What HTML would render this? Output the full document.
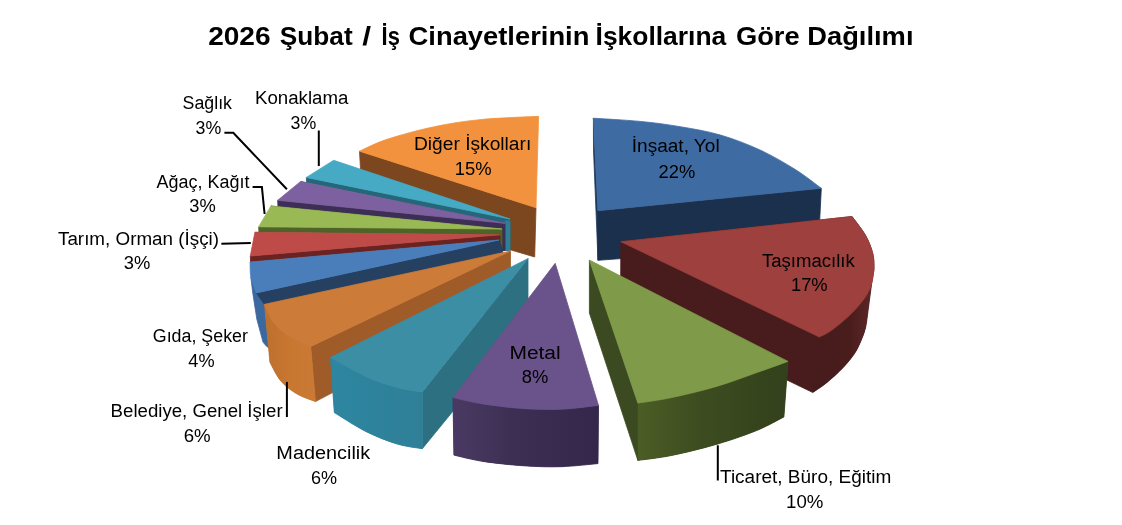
<!DOCTYPE html>
<html lang="tr"><head><meta charset="utf-8"><title>2026 Şubat / İş Cinayetlerinin İşkollarına Göre Dağılımı</title>
<style>html,body{margin:0;padding:0;background:#fff}svg{display:block}text{font-family:"Liberation Sans",Arial,sans-serif;fill:#000}</style></head><body>
<svg width="1122" height="525" viewBox="0 0 1122 525">
<rect width="1122" height="525" fill="#fff"/>
<defs>
<linearGradient id="gp" gradientUnits="userSpaceOnUse" x1="453" y1="0" x2="598" y2="0"><stop offset="0" stop-color="#4A3A63"/><stop offset="0.4" stop-color="#3D2F54"/><stop offset="1" stop-color="#34274A"/></linearGradient>
<linearGradient id="gg" gradientUnits="userSpaceOnUse" x1="638" y1="0" x2="788" y2="0"><stop offset="0" stop-color="#4B5D25"/><stop offset="0.4" stop-color="#3D4D20"/><stop offset="1" stop-color="#33401C"/></linearGradient>
<linearGradient id="gr" gradientUnits="userSpaceOnUse" x1="813" y1="0" x2="875" y2="0"><stop offset="0" stop-color="#461B1B"/><stop offset="0.6" stop-color="#4A1D1D"/><stop offset="1" stop-color="#602827"/></linearGradient>
<linearGradient id="gt" gradientUnits="userSpaceOnUse" x1="330" y1="0" x2="423" y2="0"><stop offset="0" stop-color="#2D86A0"/><stop offset="1" stop-color="#2F7F97"/></linearGradient>
<linearGradient id="go" gradientUnits="userSpaceOnUse" x1="264" y1="0" x2="316" y2="0"><stop offset="0" stop-color="#BC6F2D"/><stop offset="0.5" stop-color="#C87731"/><stop offset="1" stop-color="#CB7A35"/></linearGradient>
</defs>
<g shape-rendering="geometricPrecision">
<path d="M359.5 151.2L536.0 207.7 L534.7 257.0 L510.0 249.7 L361.4 185.0Z" fill="#7C461E" stroke="#7C461E" stroke-width="0.8" stroke-linejoin="round"/>
<path d="M536.0 207.7L359.5 151.2C364.1 149.2 374.6 143.4 387.1 139.3 C399.6 135.2 418.6 130.0 434.3 126.7 C450.0 123.4 464.0 121.2 481.4 119.5 C498.8 117.8 529.1 116.8 538.6 116.3Z" fill="#F3923E" stroke="#F3923E" stroke-width="0.8" stroke-linejoin="round"/>
<path d="M593.4 118.2L593.5 150.0 L598.0 260.3 L598.0 210.7Z" fill="#1F3A5C" stroke="#1F3A5C" stroke-width="0.8" stroke-linejoin="round"/>
<path d="M598.0 210.7L821.3 188.3 L818.5 244.0 L598.0 260.3Z" fill="#1B304C" stroke="#1B304C" stroke-width="0.8" stroke-linejoin="round"/>
<path d="M598.0 210.7L593.4 118.2C601.2 118.7 625.7 120.0 640.2 121.4 C654.7 122.8 666.9 124.4 680.3 126.7 C693.7 129.0 707.0 131.1 720.4 135.0 C733.8 138.9 748.0 144.4 760.5 150.2 C773.0 155.9 785.2 163.2 795.3 169.5 C805.4 175.8 817.0 185.2 821.3 188.3Z" fill="#3F6BA3" stroke="#3F6BA3" stroke-width="0.8" stroke-linejoin="round"/>
<path d="M306.3 177.4L510.0 219.0 L510.0 250.5 L502.0 250.5 L505.0 223.3 L300.6 181.5 L306.6 185.4Z" fill="#256679" stroke="#256679" stroke-width="0.8" stroke-linejoin="round"/>
<path d="M505.2 221.0L510.0 221.0 L510.0 250.5 L505.2 250.5Z" fill="#2E7E95" stroke="#2E7E95" stroke-width="0.8" stroke-linejoin="round"/>
<path d="M510.0 219.0L333.7 160.3 L306.3 177.4Z" fill="#46AAC5" stroke="#46AAC5" stroke-width="0.8" stroke-linejoin="round"/>
<path d="M277.7 200.3L505.0 223.3 L505.0 250.5 L499.0 250.5 L502.0 229.0 L270.9 206.0 L278.0 208.3Z" fill="#3D2E55" stroke="#3D2E55" stroke-width="0.8" stroke-linejoin="round"/>
<path d="M505.0 223.3L300.6 181.5 L277.7 200.3Z" fill="#7D60A0" stroke="#7D60A0" stroke-width="0.8" stroke-linejoin="round"/>
<path d="M258.7 226.8L502.0 229.0 L502.0 250.5 L497.0 250.5 L500.0 234.8 L254.9 232.3 L259.0 234.8Z" fill="#4F6328" stroke="#4F6328" stroke-width="0.8" stroke-linejoin="round"/>
<path d="M502.0 229.0L270.9 206.0 L258.7 226.8Z" fill="#98B954" stroke="#98B954" stroke-width="0.8" stroke-linejoin="round"/>
<path d="M250.3 256.0L500.0 234.8 L500.0 250.5 L496.0 250.5 L499.0 240.0 L250.1 262.1 L250.6 263.0Z" fill="#6B2322" stroke="#6B2322" stroke-width="0.8" stroke-linejoin="round"/>
<path d="M500.0 234.8L254.9 232.3 L250.3 256.0Z" fill="#BE4B48" stroke="#BE4B48" stroke-width="0.8" stroke-linejoin="round"/>
<path d="M250.9 277.2L256.3 292.9 L270.0 303.0 L270.0 349.0 L266.2 345.9 L263.0 342.1 L256.8 319.1 L252.6 291.9Z" fill="#3B689E" stroke="#3B689E" stroke-width="0.8" stroke-linejoin="round"/>
<path d="M256.3 292.9L499.0 240.0 L503.0 250.5 L500.0 262.0 L264.6 304.6Z" fill="#254061" stroke="#254061" stroke-width="0.8" stroke-linejoin="round"/>
<path d="M499.0 240.0L250.1 262.1C250.2 264.6 249.9 272.1 250.9 277.2 C251.9 282.3 255.4 290.3 256.3 292.9Z" fill="#4A7EBB" stroke="#4A7EBB" stroke-width="0.8" stroke-linejoin="round"/>
<path d="M510.5 251.0L310.7 346.6 L315.4 401.6 L510.5 300.0Z" fill="#A05C28" stroke="#A05C28" stroke-width="0.8" stroke-linejoin="round"/>
<path d="M264.6 304.3C265.8 306.9 268.5 315.1 272.0 320.0 C275.5 324.9 279.2 329.3 285.7 333.7 C292.1 338.1 306.5 344.5 310.7 346.6L315.4 401.6C312.3 400.3 302.4 397.1 296.6 393.7 C290.9 390.3 285.3 386.3 280.9 381.1 C276.4 375.9 271.7 365.4 269.9 362.3Z" fill="#C67631" stroke="#C67631" stroke-width="0.8" stroke-linejoin="round"/>
<path d="M264.6 304.3C265.8 306.9 268.5 315.1 272.0 320.0 C275.5 324.9 279.2 329.3 285.7 333.7 C292.1 338.1 306.5 344.5 310.7 346.6L315.4 401.6C312.3 400.3 302.4 397.1 296.6 393.7 C290.9 390.3 285.3 386.3 280.9 381.1 C276.4 375.9 271.7 365.4 269.9 362.3Z" fill="url(#go)"/>
<path d="M510.5 251.0L264.6 304.3C265.8 306.9 268.5 315.1 272.0 320.0 C275.5 324.9 279.2 329.3 285.7 333.7 C292.1 338.1 306.5 344.5 310.7 346.6Z" fill="#CC7B38" stroke="#CC7B38" stroke-width="0.8" stroke-linejoin="round"/>
<path d="M528.0 258.6L422.3 392.1 L422.3 448.7 L528.0 319.3Z" fill="#2C7082" stroke="#2C7082" stroke-width="0.8" stroke-linejoin="round"/>
<path d="M330.5 357.6C336.4 360.7 354.6 371.4 365.7 376.4 C376.8 381.4 387.7 384.8 397.1 387.4 C406.5 390.0 418.1 391.3 422.3 392.1L422.3 448.7C418.1 447.9 406.5 446.9 397.1 444.0 C387.7 441.1 376.2 436.6 365.7 431.4 C355.2 426.2 339.5 415.7 334.3 412.6Z" fill="#2E839C" stroke="#2E839C" stroke-width="0.8" stroke-linejoin="round"/>
<path d="M330.5 357.6C336.4 360.7 354.6 371.4 365.7 376.4 C376.8 381.4 387.7 384.8 397.1 387.4 C406.5 390.0 418.1 391.3 422.3 392.1L422.3 448.7C418.1 447.9 406.5 446.9 397.1 444.0 C387.7 441.1 376.2 436.6 365.7 431.4 C355.2 426.2 339.5 415.7 334.3 412.6Z" fill="url(#gt)"/>
<path d="M528.0 258.6L330.5 357.6C336.4 360.7 354.6 371.4 365.7 376.4 C376.8 381.4 387.7 384.8 397.1 387.4 C406.5 390.0 418.1 391.3 422.3 392.1Z" fill="#3C8EA5" stroke="#3C8EA5" stroke-width="0.8" stroke-linejoin="round"/>
<path d="M620.8 241.7L852.0 216.5C854.3 219.7 862.3 229.6 865.7 235.7 C869.1 241.8 871.2 247.8 872.6 252.9 C874.0 258.1 873.9 262.9 874.0 266.6 C874.1 270.3 873.5 272.1 873.1 275.0 C872.7 277.9 871.9 282.2 871.6 283.7C871.0 288.5 868.8 305.3 867.8 312.7 C866.8 320.1 866.6 323.3 865.5 327.9 C864.4 332.4 863.1 335.8 861.3 340.0 C859.5 344.2 857.8 348.6 854.7 353.3 C851.6 358.0 847.4 363.1 842.7 368.0 C838.0 372.9 831.7 378.6 826.7 382.7 C821.7 386.8 815.1 390.9 812.8 392.5L620.6 300.0Z" fill="#481C1C" stroke="#481C1C" stroke-width="0.8" stroke-linejoin="round"/>
<path d="M871.6 283.7C871.0 288.5 868.8 305.3 867.8 312.7 C866.8 320.1 866.6 323.3 865.5 327.9 C864.4 332.4 863.1 335.8 861.3 340.0 C859.5 344.2 857.8 348.6 854.7 353.3 C851.6 358.0 847.4 363.1 842.7 368.0 C838.0 372.9 831.7 378.6 826.7 382.7 C821.7 386.8 815.1 390.9 812.8 392.5L819.3 337.0C821.2 336.0 826.1 334.0 830.5 331.0 C834.9 328.0 841.1 322.9 845.7 318.8 C850.3 314.7 854.4 310.7 857.9 306.6 C861.4 302.5 864.7 298.2 867.0 294.4 C869.3 290.6 870.8 285.5 871.6 283.7Z" fill="url(#gr)"/>
<path d="M620.8 241.7L852.0 216.5C854.3 219.7 862.3 229.6 865.7 235.7 C869.1 241.8 871.2 247.8 872.6 252.9 C874.0 258.1 873.9 262.9 874.0 266.6 C874.1 270.3 873.5 272.1 873.1 275.0 C872.7 277.9 872.6 280.5 871.6 283.7 C870.6 286.9 869.3 290.6 867.0 294.4 C864.7 298.2 861.4 302.5 857.9 306.6 C854.4 310.7 850.3 314.7 845.7 318.8 C841.1 322.9 834.9 328.0 830.5 331.0 C826.1 334.0 821.2 336.0 819.3 337.0Z" fill="#9D403E" stroke="#9D403E" stroke-width="0.8" stroke-linejoin="round"/>
<path d="M589.4 260.1L637.9 403.1 L637.9 460.4 L589.4 313.0Z" fill="#3C4A21" stroke="#3C4A21" stroke-width="0.8" stroke-linejoin="round"/>
<path d="M788.0 361.4C782.8 363.3 768.5 368.5 756.7 372.6 C744.9 376.8 731.2 382.1 717.0 386.3 C702.8 390.5 684.6 394.8 671.4 397.6 C658.2 400.4 643.5 402.2 637.9 403.1L637.9 460.4C643.5 459.6 658.2 458.2 671.4 455.5 C684.6 452.8 702.8 448.4 717.0 444.2 C731.2 440.0 745.6 435.0 756.7 430.5 C767.9 426.0 779.4 419.2 783.9 417.0Z" fill="#3A4820" stroke="#3A4820" stroke-width="0.8" stroke-linejoin="round"/>
<path d="M788.0 361.4C782.8 363.3 768.5 368.5 756.7 372.6 C744.9 376.8 731.2 382.1 717.0 386.3 C702.8 390.5 684.6 394.8 671.4 397.6 C658.2 400.4 643.5 402.2 637.9 403.1L637.9 460.4C643.5 459.6 658.2 458.2 671.4 455.5 C684.6 452.8 702.8 448.4 717.0 444.2 C731.2 440.0 745.6 435.0 756.7 430.5 C767.9 426.0 779.4 419.2 783.9 417.0Z" fill="url(#gg)"/>
<path d="M589.4 260.1L788.0 361.4C782.8 363.3 768.5 368.5 756.7 372.6 C744.9 376.8 731.2 382.1 717.0 386.3 C702.8 390.5 684.6 394.8 671.4 397.6 C658.2 400.4 643.5 402.2 637.9 403.1Z" fill="#7F9A48" stroke="#7F9A48" stroke-width="0.8" stroke-linejoin="round"/>
<path d="M598.5 405.4C592.3 406.0 573.9 408.7 561.4 409.2 C548.9 409.7 536.8 409.5 523.7 408.6 C510.6 407.7 494.7 405.7 482.9 403.9 C471.1 402.1 458.0 398.7 453.0 397.6L453.9 455.1C458.7 456.2 471.3 459.6 482.9 461.4 C494.5 463.2 510.6 464.9 523.7 465.8 C536.8 466.7 549.0 467.1 561.4 466.7 C573.8 466.3 591.9 464.1 598.0 463.6Z" fill="#3A2C50" stroke="#3A2C50" stroke-width="0.8" stroke-linejoin="round"/>
<path d="M598.5 405.4C592.3 406.0 573.9 408.7 561.4 409.2 C548.9 409.7 536.8 409.5 523.7 408.6 C510.6 407.7 494.7 405.7 482.9 403.9 C471.1 402.1 458.0 398.7 453.0 397.6L453.9 455.1C458.7 456.2 471.3 459.6 482.9 461.4 C494.5 463.2 510.6 464.9 523.7 465.8 C536.8 466.7 549.0 467.1 561.4 466.7 C573.8 466.3 591.9 464.1 598.0 463.6Z" fill="url(#gp)"/>
<path d="M555.2 263.3L598.5 405.4C592.3 406.0 573.9 408.7 561.4 409.2 C548.9 409.7 536.8 409.5 523.7 408.6 C510.6 407.7 494.7 405.7 482.9 403.9 C471.1 402.1 458.0 398.7 453.0 397.6Z" fill="#6A528B" stroke="#6A528B" stroke-width="0.8" stroke-linejoin="round"/>
</g>
<g fill="none" stroke="#000" stroke-width="2">
<path d="M318.8 130.5 L318.8 166"/>
<path d="M224.4 132.8 L233.3 132.8 L286.9 189.2"/>
<path d="M252.6 187.1 L261.9 187.1 L264.6 214"/>
<path d="M221.4 243.8 L250.8 243.1"/>
<path d="M286.9 381.9 L286.9 417"/>
<path d="M717.8 445.3 L717.8 480.5"/>
</g>
<text y="45.4" font-size="25.7" font-weight="bold"><tspan x="208.17" textLength="62.45" lengthAdjust="spacingAndGlyphs">2026</tspan> <tspan x="279.80" textLength="72.82" lengthAdjust="spacingAndGlyphs">Şubat</tspan> <tspan x="362.30" textLength="8.80" lengthAdjust="spacingAndGlyphs">/</tspan> <tspan x="381.61" textLength="18.29" lengthAdjust="spacingAndGlyphs">İş</tspan> <tspan x="408.58" textLength="180.86" lengthAdjust="spacingAndGlyphs">Cinayetlerinin</tspan> <tspan x="595.58" textLength="130.62" lengthAdjust="spacingAndGlyphs">İşkollarına</tspan> <tspan x="735.93" textLength="63.70" lengthAdjust="spacingAndGlyphs">Göre</tspan> <tspan x="807.32" textLength="106.16" lengthAdjust="spacingAndGlyphs">Dağılımı</tspan></text>
<g font-size="17.6">
<text x="631.77" y="152.4" textLength="87.88" lengthAdjust="spacingAndGlyphs">İnşaat, Yol</text>
<text x="658.55" y="177.6" textLength="36.66" lengthAdjust="spacingAndGlyphs">22%</text>
<text x="762.00" y="266.7" textLength="92.81" lengthAdjust="spacingAndGlyphs">Taşımacılık</text>
<text x="790.94" y="291.3" textLength="36.71" lengthAdjust="spacingAndGlyphs">17%</text>
<text x="720.00" y="482.8" textLength="171.22" lengthAdjust="spacingAndGlyphs">Ticaret, Büro, Eğitim</text>
<text x="786.10" y="507.7" textLength="37.35" lengthAdjust="spacingAndGlyphs">10%</text>
<text x="509.46" y="358.7" textLength="51.23" lengthAdjust="spacingAndGlyphs">Metal</text>
<text x="521.70" y="383.3" textLength="26.54" lengthAdjust="spacingAndGlyphs">8%</text>
<text x="276.38" y="458.5" textLength="93.85" lengthAdjust="spacingAndGlyphs">Madencilik</text>
<text x="310.96" y="483.5" textLength="26.08" lengthAdjust="spacingAndGlyphs">6%</text>
<text x="110.58" y="417.0" textLength="172.02" lengthAdjust="spacingAndGlyphs">Belediye, Genel İşler</text>
<text x="183.68" y="442.0" textLength="26.97" lengthAdjust="spacingAndGlyphs">6%</text>
<text x="152.79" y="341.8" textLength="95.21" lengthAdjust="spacingAndGlyphs">Gıda, Şeker</text>
<text x="188.38" y="366.5" textLength="26.26" lengthAdjust="spacingAndGlyphs">4%</text>
<text x="58.00" y="244.5" textLength="161.01" lengthAdjust="spacingAndGlyphs">Tarım, Orman (İşçi)</text>
<text x="123.70" y="269.0" textLength="26.55" lengthAdjust="spacingAndGlyphs">3%</text>
<text x="156.60" y="187.6" textLength="92.81" lengthAdjust="spacingAndGlyphs">Ağaç, Kağıt</text>
<text x="189.34" y="212.0" textLength="26.49" lengthAdjust="spacingAndGlyphs">3%</text>
<text x="182.57" y="108.5" textLength="49.43" lengthAdjust="spacingAndGlyphs">Sağlık</text>
<text x="195.53" y="133.5" textLength="25.70" lengthAdjust="spacingAndGlyphs">3%</text>
<text x="254.97" y="104.3" textLength="93.44" lengthAdjust="spacingAndGlyphs">Konaklama</text>
<text x="290.52" y="129.2" textLength="25.69" lengthAdjust="spacingAndGlyphs">3%</text>
<text x="413.96" y="149.7" textLength="117.29" lengthAdjust="spacingAndGlyphs">Diğer İşkolları</text>
<text x="454.69" y="174.7" textLength="36.79" lengthAdjust="spacingAndGlyphs">15%</text>
</g>
</svg></body></html>
